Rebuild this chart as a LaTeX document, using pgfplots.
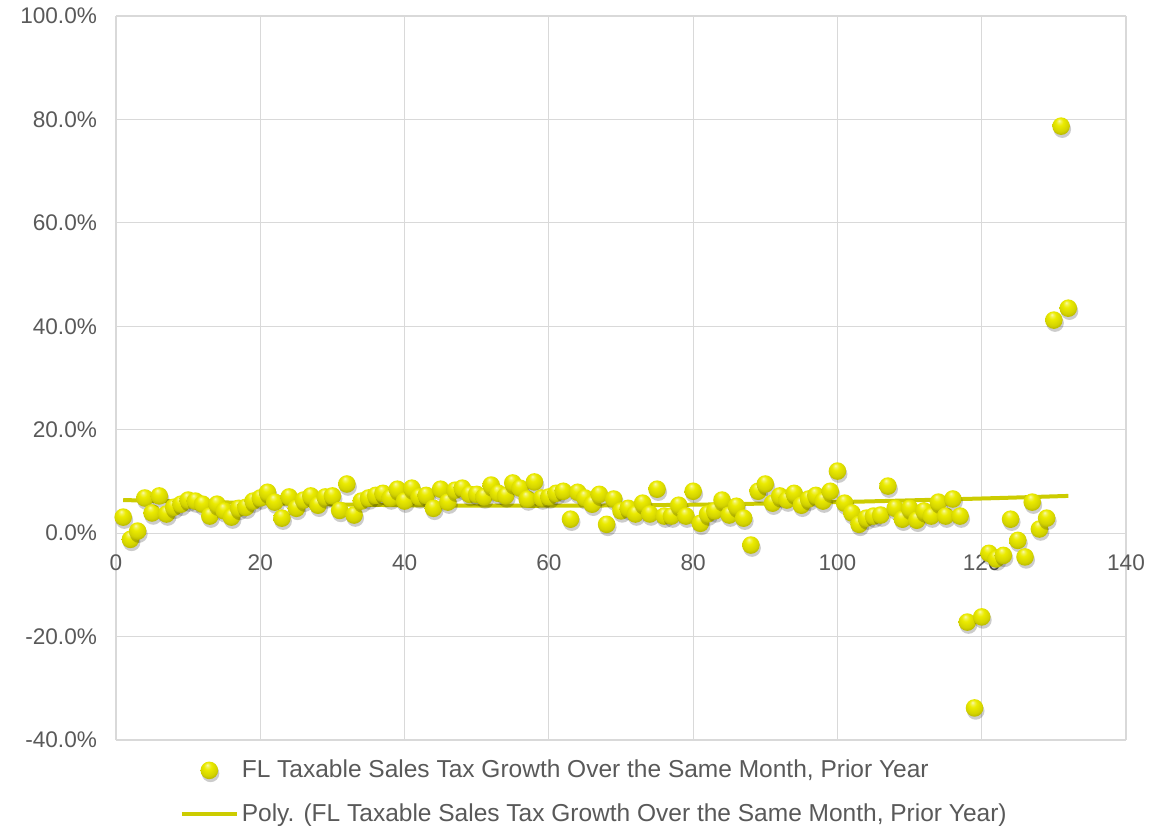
\documentclass[border=0pt]{standalone}
\usepackage{pgfplots}
\pgfplotsset{compat=1.18}
\usepackage{fontspec}
\setmainfont{Liberation Sans}
\definecolor{gridgray}{RGB}{217,217,217}
\definecolor{labelgray}{RGB}{89,89,89}
\definecolor{ballyellow}{RGB}{235,235,0}
\definecolor{trendyellow}{RGB}{204,204,0}
\newcommand\lbl{\fontsize{11.3pt}{13pt}\selectfont}
\newcommand\leglbl{\fontsize{12.25pt}{14pt}\selectfont}

% shaded yellow sphere with a soft drop shadow
\pgfdeclareradialshading{yball}{\pgfqpoint{-6bp}{16bp}}{%
  color(0bp)=(ballyellow!30!white); color(5bp)=(ballyellow!70!white);
  color(11bp)=(ballyellow); color(24bp)=(ballyellow!90!black);
  color(36bp)=(ballyellow!68!black); color(50bp)=(ballyellow!42!black)}
\pgfdeclareplotmark{yball}{%
  \pgfscope
  \pgfsetfillcolor{black}\pgfsetfillopacity{0.2}%
  \pgfpathcircle{\pgfqpoint{0.6pt}{-1.5pt}}{\pgfplotmarksize}%
  \pgfusepath{fill}%
  \endpgfscope
  \pgfpathcircle{\pgfpointorigin}{\pgfplotmarksize}%
  \pgfshadepath{yball}{0}%
  \pgfusepath{discard}%
}
\pgfplotsset{
  balllegend/.style={legend image code/.code={%
    \draw[##1, mark repeat=2, mark phase=2]
      plot coordinates {(0pt,0pt)(13.75pt,0pt)(27.5pt,0pt)};}},
  trendlegend/.style={legend image code/.code={%
    \draw[##1] (0pt,0pt) -- (27.5pt,0pt);}},
}

\begin{document}
\begin{tikzpicture}
\path[use as bounding box] (-58pt,-42.5pt) rectangle (521.5pt,370pt);
\begin{axis}[
  scale only axis,
  width=505pt, height=362pt,
  xmin=0, xmax=140, ymin=-40, ymax=100,
  xtick={0,20,...,140}, ytick={-40,-20,...,100},
  axis x line*=middle, axis y line*=left,
  hide obscured x ticks=false,
  axis line style={draw=gridgray, line width=0.6pt},
  grid=major, major grid style={draw=gridgray, line width=0.6pt},
  major tick length=0pt,
  tick label style={font=\lbl, text=labelgray},
  /pgf/number format/assume math mode=true,
  yticklabel={\pgfmathprintnumber[fixed,fixed zerofill,precision=1]{\tick}\%},
  xticklabel style={yshift=-7.5pt},
  yticklabel style={xshift=-6pt},
  legend style={at={(0.474,-0.016)}, anchor=north, draw=none, fill=none,
    font=\leglbl, text=labelgray, row sep=7.5pt,
    nodes={inner xsep=1.5pt}},
  legend cell align=left,
  clip=false,
]
\addplot[only marks, mark=yball, mark size=4.4pt, balllegend]
coordinates {
(1,3.1)(2,-1.2)(3,0.4)(4,6.8)(5,3.9)(6,7.2)(7,3.7)(8,5.0)(9,5.6)(10,6.4)
(11,6.2)(12,5.6)(13,3.3)(14,5.6)(15,4.3)(16,3.1)(17,4.8)(18,5.0)(19,6.2)(20,6.8)
(21,7.9)(22,6.0)(23,2.9)(24,7.0)(25,4.8)(26,6.4)(27,7.2)(28,5.4)(29,7.0)(30,7.2)
(31,4.4)(32,9.5)(33,3.5)(34,6.2)(35,6.8)(36,7.3)(37,7.7)(38,6.8)(39,8.5)(40,6.2)
(41,8.7)(42,7.0)(43,7.3)(44,4.8)(45,8.5)(46,6.0)(47,8.3)(48,8.7)(49,7.5)(50,7.5)
(51,7.0)(52,9.3)(53,7.7)(54,7.2)(55,9.7)(56,8.7)(57,6.6)(58,9.9)(59,6.8)(60,7.0)
(61,7.7)(62,8.1)(63,2.7)(64,7.9)(65,6.8)(66,5.6)(67,7.5)(68,1.7)(69,6.6)(70,4.3)
(71,4.8)(72,3.7)(73,5.8)(74,3.7)(75,8.5)(76,3.3)(77,3.3)(78,5.4)(79,3.3)(80,8.1)
(81,1.9)(82,3.7)(83,4.3)(84,6.4)(85,3.5)(86,5.2)(87,2.9)(88,-2.3)(89,8.1)(90,9.5)
(91,5.8)(92,7.2)(93,6.4)(94,7.7)(95,5.4)(96,6.6)(97,7.3)(98,6.2)(99,8.1)(100,12.0)
(101,5.8)(102,3.9)(103,1.7)(104,2.9)(105,3.3)(106,3.5)(107,9.1)(108,4.8)(109,2.7)(110,4.8)
(111,2.5)(112,4.3)(113,3.3)(114,6.0)(115,3.3)(116,6.6)(117,3.3)(118,-17.2)(119,-33.8)(120,-16.2)
(121,-3.9)(122,-5.0)(123,-4.3)(124,2.7)(125,-1.4)(126,-4.6)(127,6.0)(128,0.8)(129,2.9)(130,41.2)
(131,78.7)(132,43.5)
};
\addlegendentry{FL Taxable Sales Tax Growth Over the Same Month, Prior Year}
% polynomial trend of the series
\addplot[trendyellow, line width=2pt, smooth, trendlegend]
coordinates {(1,6.4)(20,5.8)(40,5.4)(60,5.3)(80,5.5)(100,6.0)(120,6.7)(132,7.2)};
\addlegendentry{Poly. (FL Taxable Sales Tax Growth Over the Same Month, Prior Year)}
\end{axis}
\end{tikzpicture}
\end{document}
